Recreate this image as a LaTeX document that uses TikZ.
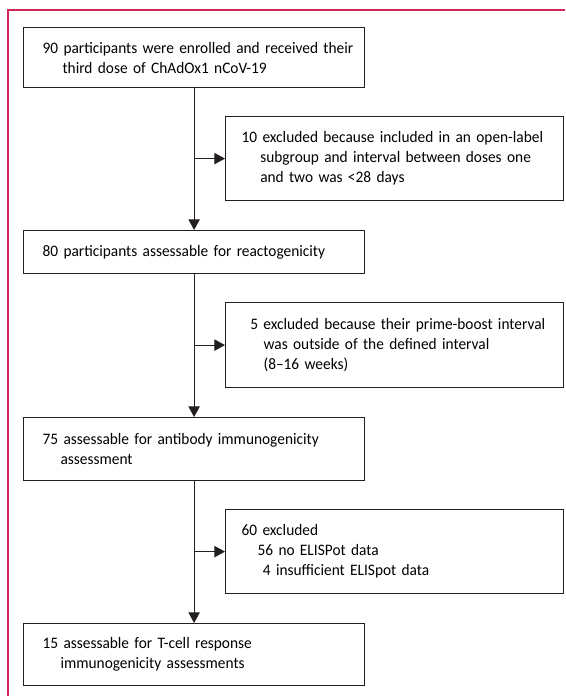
\documentclass[tikz,border=0pt]{standalone}
\usepackage{fontspec}
\setmainfont{Carlito}[FakeStretch=0.96, WordSpace=0.7]
\usetikzlibrary{arrows.meta}

\definecolor{framepink}{RGB}{208,38,88}
\definecolor{linegrey}{RGB}{35,31,32}

\begin{document}
\begin{tikzpicture}[
  x=0.75pt, y=-0.75pt,
  font=\fontsize{12pt}{15pt}\selectfont,
  box/.style={draw=linegrey, line width=0.9pt, anchor=north west,
    inner xsep=0pt, inner ysep=0pt},
  mainbox/.style={box, text width=255.75pt,
    execute at begin node={\parindent=0pt\leftskip=14.25pt\rightskip=0pt plus 1fil}},
  exclbox/.style={box, text width=253.5pt,
    execute at begin node={\parindent=0pt\leftskip=12pt\rightskip=0pt plus 1fil}},
  arr/.style={draw=linegrey, line width=0.8pt, -{Triangle[length=8pt,width=8.5pt]}},
  frame/.style={draw=framepink, line width=0.8pt},
]
\useasboundingbox (0,0) rectangle (565,696);
\draw[frame] (8,696) -- (8,10) -- (565,10);

% main stream
\node[mainbox, minimum height=45pt] (enrol) at (23,27)
  {90 participants were enrolled and received their\\
   \hspace*{15pt}third dose of ChAdOx1 nCoV-19};
\node[mainbox, minimum height=32.25pt] (reacto) at (23,230)
  {80 participants assessable for reactogenicity};
\node[mainbox, minimum height=47.25pt] (antibody) at (23,417)
  {75 assessable for antibody immunogenicity\\
   \hspace*{13.5pt}assessment};
\node[mainbox, minimum height=46.5pt] (tcell) at (23,623)
  {15 assessable for T-cell response\\
   \hspace*{13.5pt}immunogenicity assessments};

% exclusions
\node[exclbox, minimum height=63pt] (excl1) at (225,116)
  {10 excluded because included in an open-label\\
   \hspace*{14pt}subgroup and interval between doses one\\
   \hspace*{14pt}and two was <28 days};
\node[exclbox, minimum height=63.75pt] (excl2) at (225,302)
  {\hspace*{6.5pt}5 excluded because their prime-boost interval\\
   \hspace*{16.5pt}was outside of the defined interval\\
   \hspace*{16.5pt}(8--16 weeks)};
\node[exclbox, minimum height=63pt] (excl3) at (225,509)
  {60 excluded\\
   \hspace*{12pt}56 no ELISPot data\\
   \hspace*{16pt}4 insufficient ELISpot data};

% connectors
\draw[arr] (enrol) -- (reacto);
\draw[arr] (reacto) -- (antibody);
\draw[arr] (antibody) -- (tcell);
\draw[arr] (enrol.south |- excl1.west) -- (excl1.west);
\draw[arr] (reacto.south |- excl2.west) -- (excl2.west);
\draw[arr] (antibody.south |- excl3.west) -- (excl3.west);
\end{tikzpicture}
\end{document}
